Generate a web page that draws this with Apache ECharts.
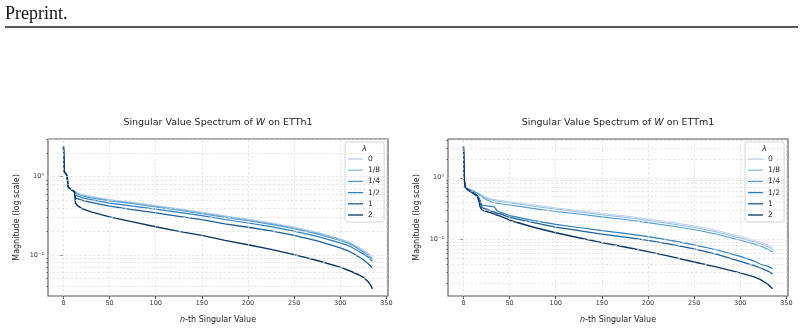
<!DOCTYPE html>
<html>
<head>
<meta charset="utf-8">
<script src="https://cdn.jsdelivr.net/npm/echarts@6/dist/echarts.min.js"></script>
<style>
  body { margin: 0; background: #fff; }
  #chart { width: 804px; height: 330px; }
</style>
</head>
<body>
<div id="chart"></div>
<script>
  var FONT = '"DejaVu Sans", sans-serif';
  var lambdas = ['0', '1/8', '1/4', '1/2', '1', '2'];
  var colors = ['#b7cde9', '#8dbbe0', '#4f9bd0', '#2b7fc0', '#1c5f9a', '#0b3563'];
  var widths = [1, 1, 1.1, 1.2, 1.3, 1.4];

  // ETTh1: singular value index and magnitudes per lambda
  var nH = [0, 1, 3, 4, 5, 8, 12, 13, 15, 20, 30, 50, 75, 100, 125, 150, 175, 200, 225, 250, 275, 300, 310, 320, 325, 330, 333, 335];
  var h_0   = [2.45, 1.15, 1.08, 1.0, 0.74, 0.69, 0.655, 0.645, 0.625, 0.595, 0.56, 0.51, 0.47, 0.428, 0.39, 0.352, 0.316, 0.287, 0.258, 0.227, 0.195, 0.161, 0.146, 0.126, 0.116, 0.106, 0.099, 0.095];
  var h_1_8 = [2.45, 1.15, 1.08, 1.0, 0.74, 0.69, 0.65, 0.64, 0.615, 0.585, 0.55, 0.50, 0.462, 0.42, 0.383, 0.345, 0.31, 0.281, 0.252, 0.222, 0.191, 0.158, 0.143, 0.123, 0.113, 0.103, 0.096, 0.092];
  var h_1_4 = [2.45, 1.15, 1.08, 1.0, 0.74, 0.69, 0.645, 0.625, 0.60, 0.57, 0.535, 0.49, 0.45, 0.41, 0.373, 0.336, 0.302, 0.274, 0.246, 0.216, 0.186, 0.153, 0.139, 0.119, 0.109, 0.099, 0.092, 0.088];
  var h_1_2 = [2.45, 1.15, 1.08, 1.0, 0.74, 0.69, 0.64, 0.58, 0.56, 0.54, 0.51, 0.46, 0.42, 0.385, 0.35, 0.318, 0.284, 0.256, 0.23, 0.202, 0.173, 0.143, 0.13, 0.112, 0.103, 0.094, 0.087, 0.083];
  var h_1   = [2.45, 1.15, 1.08, 1.0, 0.74, 0.69, 0.64, 0.53, 0.52, 0.50, 0.47, 0.42, 0.38, 0.345, 0.312, 0.283, 0.25, 0.226, 0.203, 0.178, 0.151, 0.123, 0.111, 0.095, 0.087, 0.078, 0.072, 0.068];
  var h_2   = [2.45, 1.15, 1.08, 1.0, 0.74, 0.69, 0.64, 0.46, 0.43, 0.39, 0.355, 0.307, 0.265, 0.229, 0.2, 0.178, 0.154, 0.135, 0.118, 0.101, 0.085, 0.070, 0.063, 0.056, 0.052, 0.046, 0.041, 0.037];

  // ETTm1
  var nM = [0, 1, 2, 5, 10, 15, 17, 18, 20, 25, 30, 33, 37, 40, 50, 75, 100, 125, 150, 175, 200, 225, 250, 275, 300, 315, 322, 330, 335];
  var m_0   = [3.24, 0.9, 0.71, 0.67, 0.63, 0.58, 0.555, 0.545, 0.52, 0.48, 0.455, 0.445, 0.435, 0.43, 0.41, 0.365, 0.325, 0.295, 0.265, 0.242, 0.215, 0.19, 0.167, 0.14, 0.112, 0.097, 0.0905, 0.082, 0.075];
  var m_1_8 = [3.24, 0.9, 0.70, 0.66, 0.62, 0.57, 0.54, 0.53, 0.505, 0.465, 0.44, 0.43, 0.418, 0.412, 0.392, 0.348, 0.31, 0.28, 0.252, 0.229, 0.204, 0.18, 0.158, 0.132, 0.106, 0.092, 0.086, 0.077, 0.070];
  var m_1_4 = [3.24, 0.9, 0.70, 0.65, 0.61, 0.56, 0.53, 0.515, 0.48, 0.44, 0.41, 0.398, 0.385, 0.38, 0.362, 0.32, 0.285, 0.26, 0.233, 0.212, 0.188, 0.166, 0.146, 0.122, 0.098, 0.085, 0.079, 0.070, 0.063];
  var m_1_2 = [3.24, 0.9, 0.70, 0.64, 0.58, 0.52, 0.47, 0.44, 0.36, 0.35, 0.345, 0.34, 0.29, 0.275, 0.245, 0.205, 0.176, 0.157, 0.14, 0.126, 0.112, 0.097, 0.082, 0.068, 0.0535, 0.045, 0.040, 0.037, 0.034];
  var m_1   = [3.24, 0.9, 0.70, 0.64, 0.58, 0.51, 0.45, 0.40, 0.33, 0.31, 0.29, 0.28, 0.265, 0.26, 0.228, 0.19, 0.159, 0.14, 0.123, 0.11, 0.097, 0.084, 0.071, 0.058, 0.0445, 0.038, 0.0348, 0.031, 0.028];
  var m_2   = [3.24, 0.9, 0.70, 0.63, 0.57, 0.50, 0.40, 0.34, 0.30, 0.285, 0.27, 0.26, 0.248, 0.24, 0.206, 0.16, 0.129, 0.107, 0.0895, 0.076, 0.064, 0.053, 0.0434, 0.036, 0.029, 0.025, 0.0226, 0.019, 0.016];

  var xTicks = [0, 50, 100, 150, 200, 250, 300, 350];
  var yMajor = [0.1, 1];
  var yMinorH = [0.04, 0.05, 0.06, 0.07, 0.08, 0.09, 0.2, 0.3, 0.4, 0.5, 0.6, 0.7, 0.8, 0.9, 2, 3];
  var yMinorM = [0.02, 0.03, 0.04, 0.05, 0.06, 0.07, 0.08, 0.09, 0.2, 0.3, 0.4, 0.5, 0.6, 0.7, 0.8, 0.9, 2, 3, 4];

  var panels = [
    { name: 'ETTh1', n: nH, ys: [h_0, h_1_8, h_1_4, h_1_2, h_1, h_2], ymin: 0.030, ymax: 3.02, minor: yMinorH, left: 48 },
    { name: 'ETTm1', n: nM, ys: [m_0, m_1_8, m_1_4, m_1_2, m_1, m_2], ymin: 0.01227, ymax: 4.23, minor: yMinorM, left: 448 }
  ];

  function sup(v) {
    var e = Math.round(Math.log10(v));
    return e === 0 ? '10⁰' : (e === -1 ? '10⁻¹' : '');
  }

  var grids = [], xAxes = [], yAxes = [], series = [], titles = [], legends = [], graphics = [];

  panels.forEach(function (p, g) {
    grids.push({ left: p.left, top: 139, width: 340, height: 157, show: true, borderColor: '#555', borderWidth: 1.1 });
    titles.push({
      text: '{n|Singular Value Spectrum of }{i|W}{n| on ' + p.name + '}',
      left: p.left + 170, top: 117.5, textAlign: 'center', padding: 0,
      textStyle: { fontWeight: 'normal', rich: {
        n: { fontSize: 9.5, color: '#222', fontWeight: 'normal', fontFamily: FONT },
        i: { fontSize: 9.5, color: '#222', fontWeight: 'normal', fontStyle: 'italic', fontFamily: FONT }
      } }
    });
    xAxes.push({
      type: 'value', gridIndex: g, min: -16.75, max: 351.75,
      axisLine: { show: false },
      axisTick: { show: true, customValues: xTicks, length: 3, lineStyle: { color: '#333', width: 0.8 } },
      axisLabel: { customValues: xTicks, fontSize: 6.5, color: '#333', margin: 4, fontFamily: FONT },
      splitLine: { show: false },
      name: '{i|n}{t|-th Singular Value}', nameLocation: 'middle', nameGap: 19.5,
      nameTextStyle: { rich: {
        i: { fontSize: 8, color: '#222', fontStyle: 'italic', fontFamily: FONT },
        t: { fontSize: 8, color: '#222', fontFamily: FONT }
      } }
    });
    yAxes.push({
      type: 'log', logBase: 10, gridIndex: g, position: 'left', min: p.ymin, max: p.ymax,
      axisLine: { show: false },
      axisTick: { show: true, customValues: yMajor, length: 3, lineStyle: { color: '#333', width: 0.8 } },
      axisLabel: { customValues: yMajor, formatter: sup, fontSize: 6.5, color: '#333', margin: 4, fontFamily: FONT },
      splitLine: { show: false },
      name: 'Magnitude (log scale)', nameLocation: 'middle', nameGap: 27,
      nameTextStyle: { fontSize: 8, color: '#222', fontFamily: FONT }
    });
    // minor log ticks
    yAxes.push({
      type: 'log', logBase: 10, gridIndex: g, position: 'left', offset: 0, min: p.ymin, max: p.ymax,
      axisLine: { show: false },
      axisTick: { show: true, customValues: p.minor, length: 1.8, lineStyle: { color: '#333', width: 0.6 } },
      axisLabel: { show: false },
      splitLine: { show: false }
    });

    // dashed grid lines
    var gl = xTicks.map(function (v) { return { xAxis: v }; })
      .concat(yMajor.concat(p.minor).map(function (v) { return { yAxis: v }; }));
    series.push({
      type: 'line', name: 'grid' + g, xAxisIndex: g, yAxisIndex: g * 2, data: [], z: 1,
      silent: true, animation: false,
      markLine: {
        silent: true, symbol: ['none', 'none'], label: { show: false }, animation: false,
        lineStyle: { color: '#dcdcdc', type: [2.5, 2], width: 0.7 },
        emphasis: { disabled: true },
        data: gl
      }
    });

    p.ys.forEach(function (ys, k) {
      series.push({
        type: 'line', name: lambdas[k], xAxisIndex: g, yAxisIndex: g * 2,
        data: p.n.map(function (x, i) { return [x, ys[i]]; }),
        symbol: 'none', z: 3, animation: false,
        lineStyle: { color: colors[k], width: widths[k] },
        itemStyle: { color: colors[k] }
      });
    });

    legends.push({
      data: lambdas, orient: 'vertical', left: p.left + 297, top: 142,
      padding: [13, 4, 3, 3], icon: 'rect', itemWidth: 15, itemHeight: 1.3, itemGap: 3.2,
      backgroundColor: 'rgba(255,255,255,0.85)', borderColor: '#cccccc', borderWidth: 0.8, borderRadius: 2,
      selectedMode: false,
      textStyle: { fontSize: 7.5, color: '#222', lineHeight: 8, fontFamily: FONT }
    });
    graphics.push({
      type: 'text', x: p.left + 316.5, y: 149, z: 100,
      style: { text: 'λ', font: 'italic 7.5px "DejaVu Sans"', fill: '#222', align: 'center', verticalAlign: 'middle' }
    });
  });

  graphics.push({
    type: 'text', x: 5, y: 5, z: 100,
    style: { text: 'Preprint.', font: '18px "Liberation Serif"', fill: '#111' }
  });
  graphics.push({
    type: 'line', z: 100, shape: { x1: 5, y1: 27, x2: 798, y2: 27 },
    style: { stroke: '#222', lineWidth: 1.3 }
  });

  var chart = echarts.init(document.getElementById('chart'));
  chart.setOption({
    backgroundColor: '#fff',
    animation: false,
    title: titles,
    grid: grids,
    xAxis: xAxes,
    yAxis: yAxes,
    legend: legends,
    series: series,
    graphic: graphics
  });
</script>
</body>
</html>
